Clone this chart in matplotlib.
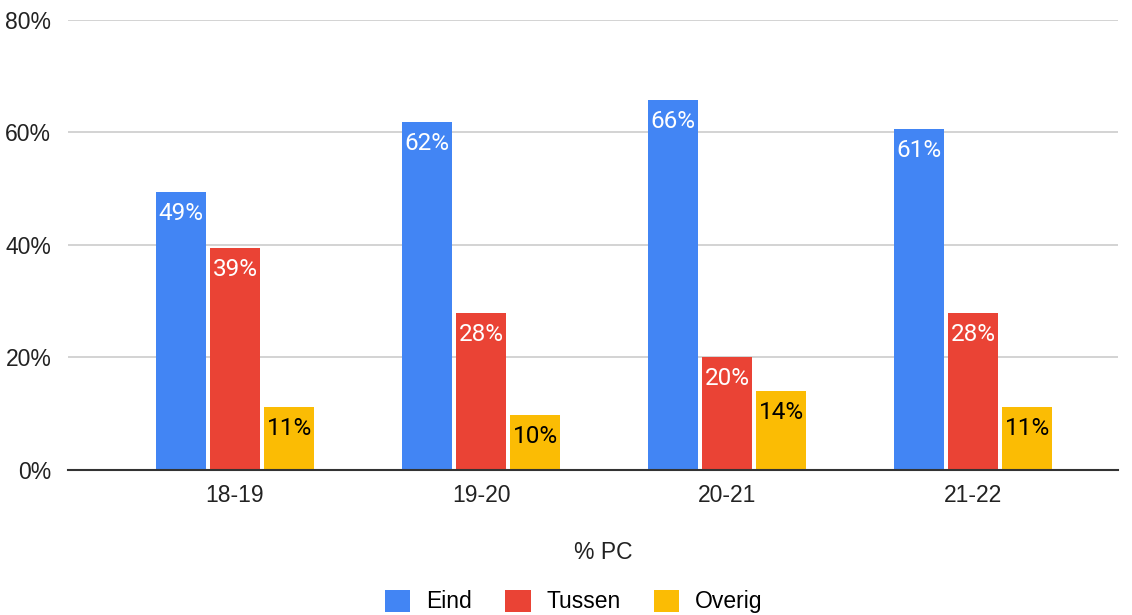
import numpy as np
import matplotlib.pyplot as plt

# data (percent)
seasons = ['18-19', '19-20', '20-21', '21-22']
eind = [49.4, 61.9, 65.8, 60.6]
tussen = [39.4, 27.9, 20.1, 27.9]
overig = [11.2, 9.8, 14.0, 11.2]
series_names = ['Eind', 'Tussen', 'Overig']
colors = ['#4285F4', '#EA4335', '#FBBC04']
label_colors = ['white', 'white', 'black']
yticks = [0, 20, 40, 60, 80]

fig = plt.figure(figsize=(11.32, 6.15), dpi=100)
ax = fig.add_axes([0.060, 0.2358, 0.928, 0.7317])

x = np.arange(len(seasons))
width = 0.203
step = 0.2195

handles = []
for i, (vals, name) in enumerate(zip([eind, tussen, overig], series_names)):
    pos = x + (i - 1) * step
    bars = ax.bar(pos, vals, width, color=colors[i], label=name, zorder=3)
    handles.append(bars)
    for p, v in zip(pos, vals):
        ax.annotate(f'{round(v)}%', (p, v), xytext=(0, -15.5), textcoords='offset points',
                    ha='center', va='center', color=label_colors[i],
                    fontsize=17.5, family='Roboto', zorder=4)

ax.set_ylim(0, 80)
ax.set_xlim(-0.679, 3.589)
ax.set_yticks(yticks)
ax.set_yticklabels([f'{t}%' for t in yticks])
ax.set_xticks(x)
ax.set_xticklabels(seasons)
ax.tick_params(axis='both', length=0, labelsize=16.5, labelcolor='#222222')
ax.tick_params(axis='y', pad=12)
ax.tick_params(axis='x', pad=10)
for lbl in ax.get_xticklabels() + ax.get_yticklabels():
    lbl.set_family('Liberation Sans')

ax.grid(axis='y', color='#cccccc', linewidth=1.2, zorder=0)
for s in ['top', 'right', 'left']:
    ax.spines[s].set_visible(False)
ax.spines['bottom'].set_color('#333333')
ax.spines['bottom'].set_linewidth(1.5)
ax.spines['bottom'].set_zorder(5)

fig.text(0.533, 0.102, '% PC', ha='center', va='center', fontsize=16.5,
         family='Liberation Sans', color='#222222')

fig.legend(handles=handles, labels=series_names, loc='center', bbox_to_anchor=(0.507, 0.022),
           ncol=3, frameon=False, handlelength=1.1, handleheight=1.1, handletextpad=0.7,
           columnspacing=1.45, prop={'family': 'Liberation Sans', 'size': 16.5})

fig.savefig('out.png', dpi=100)
